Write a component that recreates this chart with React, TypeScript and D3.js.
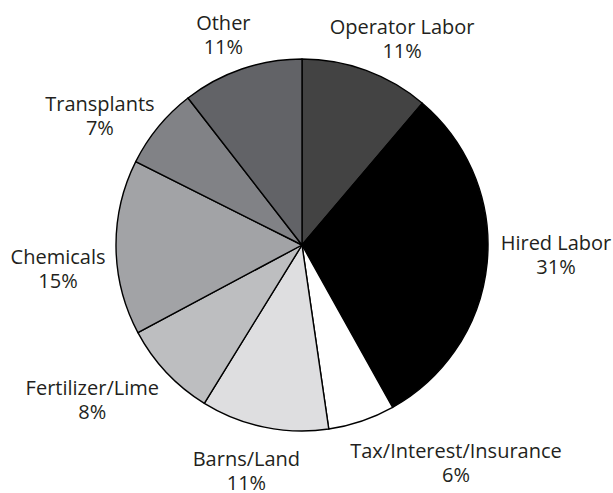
import React from "react";
import * as d3 from "d3";

// Cost shares, clockwise from 12 o'clock
const categories = [
  "Operator Labor",
  "Hired Labor",
  "Tax/Interest/Insurance",
  "Barns/Land",
  "Fertilizer/Lime",
  "Chemicals",
  "Transplants",
  "Other",
];
const shares = [11.2, 30.7, 5.8, 11.1, 8.4, 15.2, 7.1, 10.5];
const fills = ["#434343", "#000000", "#ffffff", "#dedee0", "#bdbec0", "#a2a3a6", "#818286", "#626367"];

// nudges of each label from the label-arc centroid
const labelNudge: [number, number][] = [
  [26, -9],
  [40, -16],
  [85, 9],
  [-12, 10],
  [-53, 3],
  [-29, 16],
  [-36, 3],
  [-9, -12],
];

const width = 613;
const height = 493;
const cx = 302;
const cy = 245;
const radius = 186;

export default function App() {
  const pie = d3
    .pie<number>()
    .sort(null)
    .value((d) => d)
    .startAngle(0)
    .endAngle(2 * Math.PI);
  const arcs = pie(shares);
  const total = d3.sum(shares);

  const arc = d3.arc<d3.PieArcDatum<number>>().innerRadius(0).outerRadius(radius);
  const labelArc = d3.arc<d3.PieArcDatum<number>>().innerRadius(215).outerRadius(215);

  return (
    <svg
      width={width}
      height={height}
      style={{ position: "absolute", left: 0, top: 0, background: "#fff" }}
      fontFamily="'Open Sans', sans-serif"
    >
      <g transform={`translate(${cx},${cy})`}>
        {arcs.map((a, i) => (
          <path key={i} d={arc(a) || ""} fill={fills[i]} stroke="#000" strokeWidth={1.4} strokeLinejoin="round" />
        ))}
        {arcs.map((a, i) => {
          const [lx, ly] = labelArc.centroid(a);
          const x = lx + labelNudge[i][0];
          const y = ly + labelNudge[i][1];
          return (
            <g key={"t" + i}>
              <text x={x} y={y} textAnchor="middle" fontSize={20} fill="#231f20">
                {categories[i]}
              </text>
              <text x={x} y={y + 24} textAnchor="middle" fontSize={20} fill="#231f20">
                {Math.round((a.data / total) * 100)}%
              </text>
            </g>
          );
        })}
      </g>
    </svg>
  );
}
